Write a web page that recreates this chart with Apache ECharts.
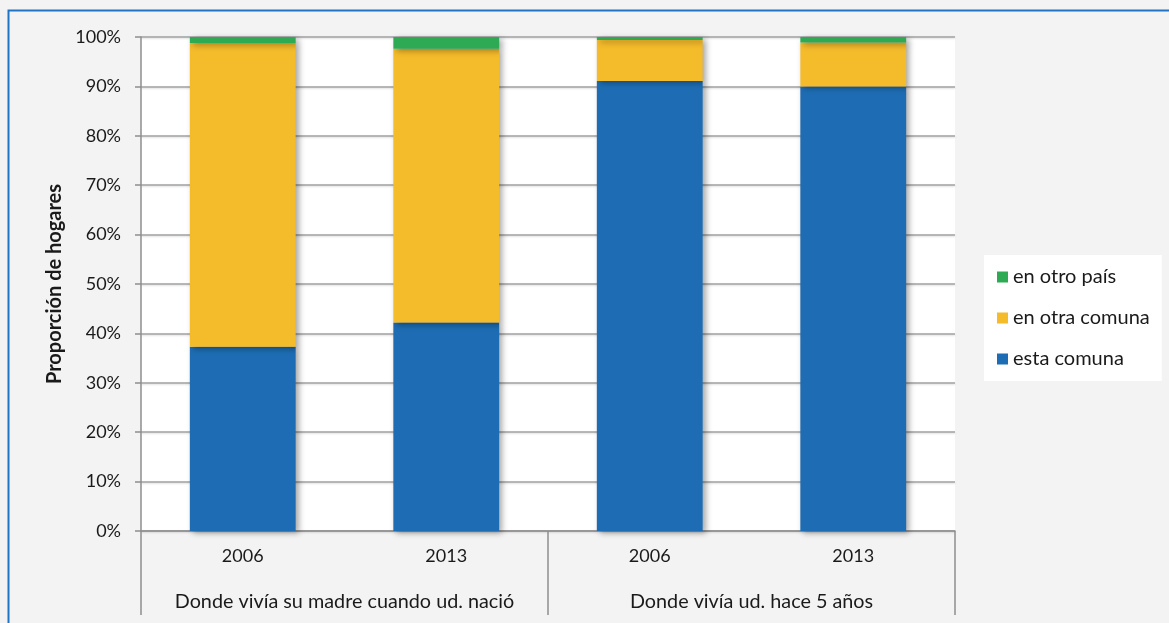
<!DOCTYPE html>
<html>
<head>
<meta charset="utf-8">
<script src="https://cdn.jsdelivr.net/npm/echarts@6/dist/echarts.min.js"></script>
<style>
  html, body { margin: 0; padding: 0; background: #f2f3f2; }
  #chart { width: 1169px; height: 623px; }
</style>
</head>
<body>
<div id="chart"></div>
<script>
// Year of each bar and the question group each pair belongs to
const years = ['2006', '2013', '2006', '2013'];
const groups = ['Donde vivía su madre cuando ud. nació', 'Donde vivía ud. hace 5 años'];

// Share of households (%) per place
const estaComuna = [37.3, 42.2, 91.1, 90.0];
const otraComuna = [61.5, 55.4, 8.3, 8.9];
const otroPais = [1.2, 2.4, 0.6, 1.1];

const FONT = 'Lato, "Open Sans", sans-serif';
const TEXT = '#1a1a1a';
const AXIS = '#8e8e8e';
const barShadow = {
  shadowBlur: 6,
  shadowOffsetX: 3,
  shadowOffsetY: 2,
  shadowColor: 'rgba(0,0,0,0.35)'
};

function stackSeries(name, values, color) {
  return {
    name: name,
    type: 'bar',
    stack: 'total',
    barWidth: '52%',
    data: values,
    itemStyle: Object.assign({ color: color }, barShadow)
  };
}

const chart = echarts.init(document.getElementById('chart'));
chart.setOption({
  backgroundColor: '#f2f3f2',
  animation: false,
  textStyle: { fontFamily: FONT },
  graphic: [{
    type: 'rect',
    left: 6, top: 8,
    shape: { width: 1200, height: 700 },
    style: { fill: 'none', stroke: '#1f74c4', lineWidth: 2 },
    z: -1
  }],
  grid: {
    left: 141, right: 214, top: 37, bottom: 92,
    show: true, backgroundColor: '#ffffff', borderWidth: 0
  },
  legend: {
    orient: 'vertical',
    left: 984, top: 255,
    backgroundColor: '#ffffff',
    padding: [12, 12, 12, 13],
    itemGap: 21,
    itemWidth: 11, itemHeight: 11,
    icon: 'rect',
    data: ['en otro país', 'en otra comuna', 'esta comuna'],
    textStyle: { fontFamily: FONT, fontSize: 20, color: TEXT, lineHeight: 20, padding: [0, 0, 0, 0] }
  },
  xAxis: [{
    type: 'category',
    data: years,
    position: 'bottom',
    axisLine: { lineStyle: { color: AXIS, width: 1.5 } },
    axisTick: { show: false },
    axisLabel: { fontFamily: FONT, fontSize: 18, color: TEXT, margin: 16, interval: 0 }
  }, {
    type: 'category',
    data: groups,
    position: 'bottom',
    axisLine: { show: false },
    axisTick: { show: true, interval: 0, length: 84, lineStyle: { color: AXIS, width: 1.5 } },
    axisLabel: { fontFamily: FONT, fontSize: 19.8, color: TEXT, margin: 61, interval: 0 }
  }],
  yAxis: {
    type: 'value',
    min: 0, max: 100, interval: 10,
    name: 'Proporción de hogares',
    nameLocation: 'middle',
    nameGap: 76,
    nameTextStyle: { fontFamily: FONT, fontSize: 20, fontWeight: 'bold', color: TEXT },
    axisLine: { show: true, lineStyle: { color: AXIS, width: 1.5 } },
    axisTick: { show: true, length: 6, lineStyle: { color: AXIS, width: 1.5 } },
    axisLabel: { fontFamily: FONT, fontSize: 18, color: TEXT, margin: 20, formatter: '{value}%' },
    splitLine: { lineStyle: { color: '#a2a2a2', width: 1.5, shadowBlur: 2, shadowOffsetY: 1, shadowColor: 'rgba(0,0,0,0.15)' } }
  },
  series: [
    stackSeries('esta comuna', estaComuna, '#1e6db4'),
    stackSeries('en otra comuna', otraComuna, '#f4bb2b'),
    stackSeries('en otro país', otroPais, '#2eaa55')
  ]
});
</script>
</body>
</html>
